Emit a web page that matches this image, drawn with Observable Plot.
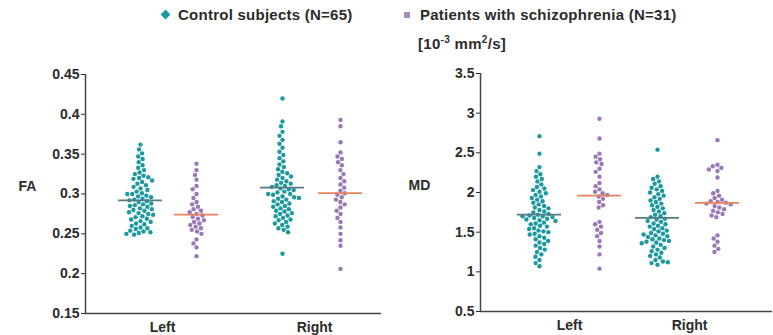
<!DOCTYPE html>
<html>
<head>
<meta charset="utf-8">
<script src="https://cdn.jsdelivr.net/npm/d3@7"></script>
<script src="https://cdn.jsdelivr.net/npm/@observablehq/plot@0.6"></script>
<style>
  body { margin: 0; background: #fff; }
  #chart { position: relative; width: 773px; height: 335px; overflow: hidden;
           font-family: "Liberation Sans", Arial, sans-serif; font-weight: bold; color: #2b2b2b; }
  .legend-item { position: absolute; top: 6px; font-size: 15px; letter-spacing: 0.25px; line-height: 18px; white-space: nowrap; }
  .marker { display: inline-block; vertical-align: 2px; }
  .unit { position: absolute; left: 418px; top: 35px; font-size: 15px; letter-spacing: 0.3px; line-height: 18px; white-space: nowrap; }
  .unit sup { font-size: 10px; vertical-align: 6px; line-height: 0; }
  .panel { position: absolute; top: 0; }
</style>
</head>
<body>
<div id="chart"></div>
<script>
// ---------------- data ----------------
const sides = ["Left", "Right"];
const groupNames = ["Control subjects (N=65)", "Patients with schizophrenia (N=31)"];

const faLeftControl = [
  0.362, 0.356, 0.351, 0.347, 0.344, 0.340, 0.336, 0.333, 0.330, 0.327,
  0.325, 0.323, 0.321, 0.320, 0.319, 0.317, 0.315, 0.313, 0.311, 0.309,
  0.307, 0.305, 0.303, 0.301, 0.300, 0.298, 0.297, 0.296, 0.294, 0.293,
  0.292, 0.291, 0.290, 0.288, 0.287, 0.286, 0.285, 0.284, 0.282, 0.281,
  0.280, 0.279, 0.277, 0.276, 0.275, 0.274, 0.272, 0.271, 0.269, 0.268,
  0.266, 0.265, 0.263, 0.262, 0.260, 0.258, 0.257, 0.256, 0.254, 0.253,
  0.252, 0.251, 0.250, 0.249, 0.300
];
const faLeftPatient = [
  0.338, 0.330, 0.324, 0.318, 0.310, 0.306, 0.300, 0.295, 0.290, 0.287,
  0.284, 0.281, 0.279, 0.277, 0.275, 0.273, 0.271, 0.269, 0.267, 0.265,
  0.263, 0.261, 0.259, 0.257, 0.255, 0.253, 0.250, 0.243, 0.238, 0.233,
  0.222
];
const faRightControl = [
  0.420, 0.391, 0.385, 0.378, 0.373, 0.368, 0.363, 0.358, 0.353, 0.349,
  0.345, 0.341, 0.337, 0.334, 0.331, 0.328, 0.326, 0.324, 0.322, 0.320,
  0.318, 0.316, 0.314, 0.313, 0.311, 0.310, 0.309, 0.307, 0.306, 0.305,
  0.303, 0.302, 0.300, 0.299, 0.297, 0.296, 0.294, 0.293, 0.291, 0.290,
  0.288, 0.287, 0.285, 0.284, 0.282, 0.281, 0.279, 0.278, 0.276, 0.275,
  0.273, 0.272, 0.270, 0.268, 0.267, 0.265, 0.263, 0.261, 0.259, 0.257,
  0.255, 0.252, 0.300, 0.295, 0.225
];
const faRightPatient = [
  0.393, 0.385, 0.365, 0.352, 0.347, 0.344, 0.340, 0.336, 0.330, 0.325,
  0.320, 0.316, 0.312, 0.308, 0.304, 0.301, 0.299, 0.296, 0.293, 0.290,
  0.287, 0.283, 0.279, 0.275, 0.270, 0.265, 0.258, 0.250, 0.242, 0.235,
  0.206
];
const mdLeftControl = [
  2.71, 2.49, 2.32, 2.27, 2.23, 2.20, 2.17, 2.14, 2.10, 2.07,
  2.05, 2.03, 2.01, 1.99, 1.97, 1.95, 1.93, 1.91, 1.89, 1.87,
  1.85, 1.83, 1.81, 1.80, 1.78, 1.76, 1.75, 1.73, 1.72, 1.71,
  1.70, 1.69, 1.68, 1.67, 1.66, 1.65, 1.64, 1.62, 1.61, 1.60,
  1.58, 1.57, 1.55, 1.54, 1.52, 1.51, 1.50, 1.48, 1.47, 1.45,
  1.43, 1.41, 1.39, 1.37, 1.35, 1.33, 1.30, 1.28, 1.25, 1.22,
  1.19, 1.15, 1.11, 1.07, 1.70
];
const mdLeftPatient = [
  2.93, 2.68, 2.49, 2.45, 2.42, 2.38, 2.36, 2.30, 2.26, 2.20,
  2.12, 2.08, 2.04, 2.01, 1.99, 1.97, 1.95, 1.92, 1.88, 1.84,
  1.81, 1.63, 1.60, 1.57, 1.53, 1.49, 1.45, 1.39, 1.32, 1.22,
  1.04
];
const mdRightControl = [
  2.54, 2.20, 2.17, 2.14, 2.11, 2.08, 2.06, 2.04, 2.02, 2.00,
  1.98, 1.96, 1.94, 1.92, 1.90, 1.88, 1.86, 1.84, 1.82, 1.80,
  1.78, 1.76, 1.74, 1.72, 1.70, 1.69, 1.67, 1.66, 1.64, 1.63,
  1.61, 1.60, 1.58, 1.57, 1.55, 1.54, 1.52, 1.51, 1.49, 1.48,
  1.46, 1.45, 1.44, 1.42, 1.41, 1.40, 1.39, 1.38, 1.37, 1.36,
  1.34, 1.32, 1.30, 1.28, 1.26, 1.24, 1.22, 1.20, 1.18, 1.15,
  1.13, 1.11, 1.09, 1.12, 1.47
];
const mdRightPatient = [
  2.66, 2.35, 2.33, 2.31, 2.29, 2.27, 2.19, 2.02, 1.99, 1.96,
  1.93, 1.91, 1.89, 1.88, 1.87, 1.86, 1.85, 1.83, 1.81, 1.79,
  1.77, 1.75, 1.73, 1.71, 1.69, 1.46, 1.42, 1.38, 1.33, 1.29,
  1.25
];
// group means (horizontal lines), order: Left control, Left patient, Right control, Right patient
const faMeans = [0.292, 0.274, 0.308, 0.301];
const mdMeans = [1.72, 1.96, 1.68, 1.87];

const faTicks = [0.15, 0.2, 0.25, 0.3, 0.35, 0.4, 0.45];
const mdTicks = [0.5, 1, 1.5, 2, 2.5, 3, 3.5];

// ---------------- styling / layout ----------------
const dotColor = {control: "#1a9aa0", patient: "#9a77b8"};
const meanColor = {control: "#557a84", patient: "#e8845c"};
const legendColor = {control: "#1a9aa0", patient: "#a58dc0"};
const axisColor = "#444";
const textColor = "#2b2b2b";
const fontFamily = "'Liberation Sans', Arial, sans-serif";
const H = 335;

const chart = document.getElementById("chart");

// legend
const legendLayout = [{left: 160, kind: "control"}, {left: 404, kind: "patient"}];
legendLayout.forEach((l, i) => {
  const item = document.createElement("div");
  item.className = "legend-item";
  item.style.left = l.left + "px";
  const m = document.createElement("span");
  m.className = "marker";
  if (l.kind === "control") {
    m.style.cssText = `width:7px;height:7px;background:${legendColor.control};transform:rotate(45deg);margin-left:2px;margin-right:9px;`;
  } else {
    m.style.cssText = `width:6px;height:6px;background:${legendColor.patient};margin-right:10px;`;
  }
  item.appendChild(m);
  item.appendChild(document.createTextNode(groupNames[i]));
  chart.appendChild(item);
});

// unit label
const unit = document.createElement("div");
unit.className = "unit";
unit.innerHTML = "[10<sup>-3</sup> mm<sup>2</sup>/s]";
chart.appendChild(unit);

const keys = [["Left", "control"], ["Left", "patient"], ["Right", "control"], ["Right", "patient"]];

function panel(cfg) {
  const {values, means, ticks, domain, yLabel, left, width, marginLeft, marginRight,
         marginTop, marginBottom, nSlots, groupSlots, labelSlots, labelDx} = cfg;
  const rows = [];
  keys.forEach(([side, group], i) => values[i].forEach(v => rows.push({slot: groupSlots[i], side, group, value: v})));
  const meanRows = keys.map(([side, group], i) => ({slot: groupSlots[i], side, group, value: means[i]}));
  const labelRows = sides.map((s, i) => ({slot: labelSlots[i], text: s}));
  const common = {width, height: H, marginLeft, marginRight, marginTop, marginBottom};
  const style = {background: "transparent", fontFamily, fontSize: "14px", fontWeight: "bold", color: textColor, overflow: "visible"};

  const axes = Plot.plot({
    ...common, style,
    x: {domain: [0, 1], axis: null},
    y: {domain, ticks, tickFormat: d => String(d), tickSize: 4, tickPadding: 2, label: null},
    marks: [
      Plot.ruleY([domain[0]], {stroke: axisColor, strokeWidth: 1.5}),
      Plot.ruleX([0], {stroke: axisColor, strokeWidth: 1.5}),
      Plot.text([yLabel], {frameAnchor: "left", dx: labelDx, dy: -7, textAnchor: "middle", fontSize: 14, fontWeight: "bold", fill: textColor})
    ]
  });

  const dots = Plot.plot({
    ...common, style,
    fx: {domain: d3.range(nSlots), axis: null, padding: 0},
    y: {domain, axis: null},
    marks: [
      Plot.dot(rows, Plot.dodgeX({anchor: "middle", padding: 0.6, r: 2.2},
        {fx: "slot", y: "value", r: 2.2, fill: d => dotColor[d.group], stroke: "none"})),
      Plot.tickY(meanRows, {fx: "slot", y: "value", stroke: d => meanColor[d.group], strokeWidth: 1.8,
        insetLeft: -21, insetRight: -21}),
      Plot.text(labelRows, {fx: "slot", text: "text", frameAnchor: "bottom", dy: 18,
        fontSize: 14, fontWeight: "bold", fill: textColor})
    ]
  });

  for (const svg of [axes, dots]) {
    const wrap = document.createElement("div");
    wrap.className = "panel";
    wrap.style.left = left + "px";
    wrap.appendChild(svg);
    chart.appendChild(wrap);
  }
}

panel({
  values: [faLeftControl, faLeftPatient, faRightControl, faRightPatient],
  means: faMeans, ticks: faTicks, domain: [0.15, 0.45], yLabel: "FA",
  left: 0, width: 386, marginLeft: 85, marginRight: 5, marginTop: 74, marginBottom: 22,
  nSlots: 148, groupSlots: [27, 55, 98, 127], labelSlots: [38, 114], labelDx: -58
});
panel({
  values: [mdLeftControl, mdLeftPatient, mdRightControl, mdRightPatient],
  means: mdMeans, ticks: mdTicks, domain: [0.5, 3.5], yLabel: "MD",
  left: 386, width: 387, marginLeft: 94, marginRight: 1, marginTop: 73, marginBottom: 24,
  nSlots: 146, groupSlots: [29, 59, 88, 118], labelSlots: [44, 104], labelDx: -61
});
</script>
</body>
</html>
